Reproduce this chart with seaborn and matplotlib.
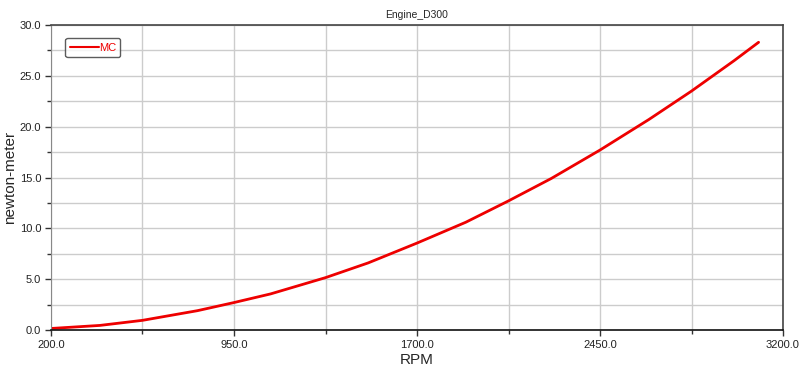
import matplotlib
matplotlib.use("Agg")
import matplotlib.pyplot as plt
import seaborn as sns
import pandas as pd
from matplotlib.ticker import FixedLocator, FormatStrFormatter, MultipleLocator

rpm = [200, 400, 575, 800, 950, 1100, 1325, 1500, 1700, 1900, 2075, 2250, 2450, 2650, 2825, 3000, 3100]
torque = [0.15, 0.45, 0.95, 1.9, 2.7, 3.55, 5.15, 6.6, 8.55, 10.6, 12.7, 14.9, 17.7, 20.7, 23.5, 26.5, 28.3]
x_major = [200, 950, 1700, 2450, 3200]
x_minor = [575, 1325, 2075, 2825]
series_name = "MC"
title = "Engine_D300"
x_label = "RPM"
y_label = "newton-meter"

df = pd.DataFrame({"rpm": rpm, "torque": torque, "series": series_name})

sns.set_style("white")
plt.rcParams["font.family"] = ["Liberation Sans", "DejaVu Sans"]

fig = plt.figure(figsize=(7.99, 3.67), dpi=100)
ax = fig.add_axes([51/799, 37/367, 732/799, 305/367])

sns.lineplot(data=df, x="rpm", y="torque", hue="series", palette=["#ee0000"],
             linewidth=2.0, ax=ax)

ax.set_xlim(200, 3200)
ax.set_ylim(0, 30)
ax.xaxis.set_major_locator(FixedLocator(x_major))
ax.xaxis.set_minor_locator(FixedLocator(x_minor))
ax.yaxis.set_major_locator(MultipleLocator(5))
ax.yaxis.set_minor_locator(MultipleLocator(2.5))
ax.xaxis.set_major_formatter(FormatStrFormatter("%.1f"))
ax.yaxis.set_major_formatter(FormatStrFormatter("%.1f"))
ax.grid(True, which="both", color="#cccccc", linewidth=1)
ax.set_axisbelow(True)
ax.tick_params(which="both", direction="out", length=4, width=1, color="#333333",
               labelsize=8, pad=3, bottom=True, left=True, labelcolor="#222222")
ax.tick_params(which="minor", length=3)

for side in ["top", "right"]:
    ax.spines[side].set_color("#444444")
    ax.spines[side].set_linewidth(1.2)
ax.spines["left"].set_color("#888888")
ax.spines["bottom"].set_color("#111111")
ax.spines["bottom"].set_linewidth(1.2)

ax.set_title(title, fontsize=7.5, pad=5)
ax.set_xlabel(x_label, fontsize=11, labelpad=2)
ax.set_ylabel(y_label, fontsize=11, labelpad=2)

leg = ax.legend(loc="upper left", bbox_to_anchor=(0.012, 0.975), fontsize=8,
                frameon=True, fancybox=True, handlelength=2.6, handletextpad=0.0,
                borderpad=0.4, title=None)
leg.get_frame().set_edgecolor("#333333")
leg.get_frame().set_linewidth(1.0)
for line in leg.get_lines():
    line.set_linewidth(1.5)
for t in leg.get_texts():
    t.set_color("#ee0000")

fig.savefig("out.png", dpi=100)
